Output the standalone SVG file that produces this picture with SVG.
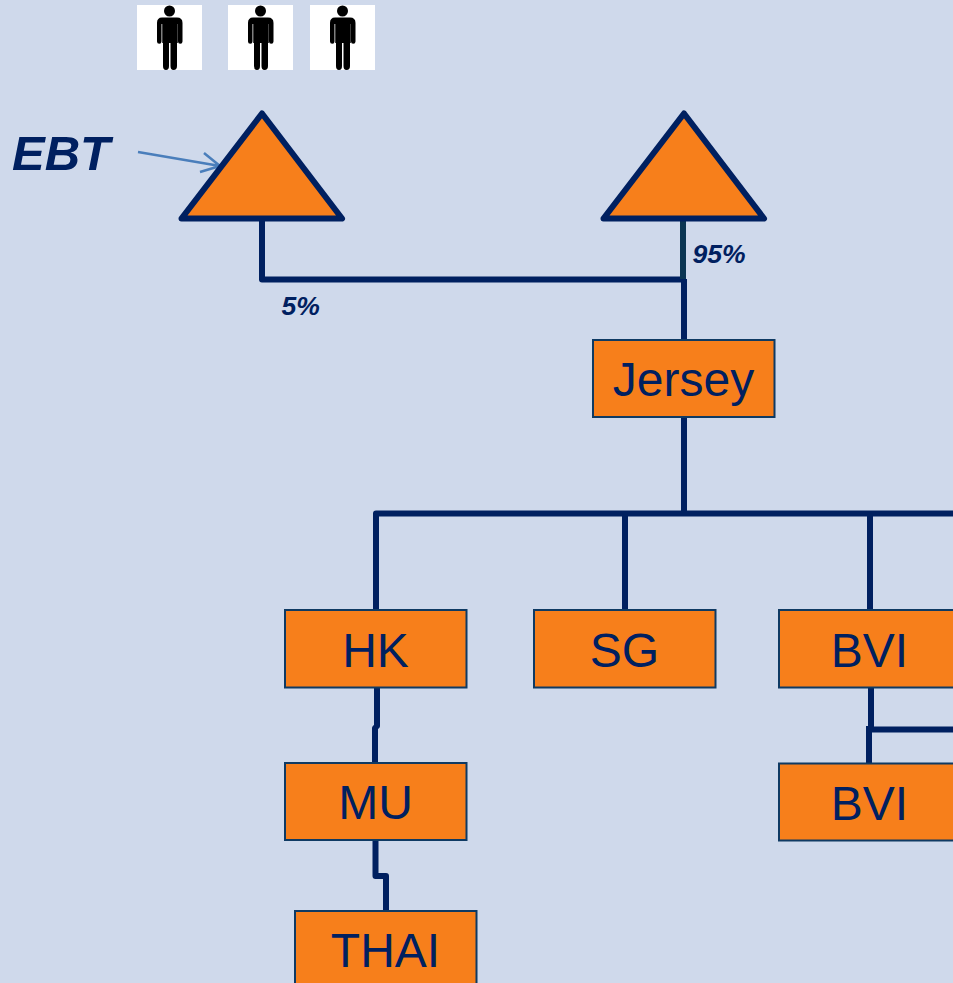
<svg xmlns="http://www.w3.org/2000/svg" width="953" height="983" viewBox="0 0 953 983">
<style>
.box{fill:#f77f1b;stroke:#0f3a63;stroke-width:2}
.tri{fill:#f77f1b;stroke:#002060;stroke-width:6;stroke-linejoin:round}
.lbl{font-family:"Liberation Sans",Arial,sans-serif;font-size:48px;fill:#002060;text-anchor:middle}
.pct{font-family:"Liberation Sans",Arial,sans-serif;font-size:26.500px;font-weight:bold;font-style:italic;fill:#002060}
.c{fill:none;stroke:#002060;stroke-width:6;stroke-linejoin:round}
</style>
<defs>
<g id="person">
<rect x="0" y="0" width="65" height="65" fill="#fff"/>
<circle cx="32.500" cy="6" r="5.500" fill="#000"/>
<path d="M25 12.500H40Q45.500 12.500 45.500 18V36.500Q45.500 38.800 43.200 38.800Q41 38.800 41 36.500V19H40V61Q40 65 36.500 65Q33.500 65 33.500 61V38H32V61Q32 65 29 65Q26 65 26 61V19H24.500V36.500Q24.500 38.800 22.300 38.800Q20 38.800 20 36.500V18Q20 12.500 25 12.500Z" fill="#000"/>
<path d="M25 17H26V38H25ZM39.500 17H41V38H39.500Z" fill="#000" opacity=".75"/>
</g>
</defs>
<rect width="953" height="983" fill="#cfd9eb"/>
<g id="connectors">
<path class="c" d="M262 219V279.500H684"/>
<path d="M683 219V279" fill="none" stroke="#0b3552" stroke-width="6"/>
<path class="c" d="M684 279V340"/>
<path class="c" d="M684 417V513.500"/>
<path class="c" d="M376 610V513.500H953"/>
<path class="c" d="M625 513.500V610"/>
<path class="c" d="M870 513.500V610"/>
<path class="c" d="M377 688V726L375 728V763"/>
<path class="c" d="M375.500 840V876H386V911"/>
<path class="c" d="M871 688V729.500H953"/>
<path class="c" d="M869 726V765"/>
<path d="M138 152L220 166M204 153L220 166M200 172L220 166" fill="none" stroke="#4a7ebb" stroke-width="2.500"/>
</g>
<g id="person-1"><use href="#person" x="137" y="5"/></g>
<g id="person-2"><use href="#person" x="228" y="5"/></g>
<g id="person-3"><use href="#person" x="310" y="5"/></g>
<g id="tri-ebt"><path class="tri" d="M262 113.500L342 218.500H181.500Z"/></g>
<g id="tri-right"><path class="tri" d="M684 113.500L764 218.500H603.500Z"/></g>
<g id="label-ebt"><text x="12" y="170" font-family="'Liberation Sans',Arial,sans-serif" font-size="49" font-weight="bold" font-style="italic" fill="#002060">EBT</text></g>
<g id="label-5"><text class="pct" x="281.500" y="315">5%</text></g>
<g id="label-95"><text class="pct" x="692.500" y="263">95%</text></g>
<g id="node-jersey"><rect class="box" x="593" y="340" width="181.500" height="77"/><text class="lbl" x="683.500" y="396">Jersey</text></g>
<g id="node-hk"><rect class="box" x="285" y="610" width="181.500" height="77.500"/><text class="lbl" x="375.500" y="667">HK</text></g>
<g id="node-sg"><rect class="box" x="534" y="610" width="181.500" height="77.500"/><text class="lbl" x="624.500" y="667">SG</text></g>
<g id="node-bvi-1"><rect class="box" x="779" y="610" width="181" height="77.500"/><text class="lbl" x="869.500" y="667">BVI</text></g>
<g id="node-mu"><rect class="box" x="285" y="763" width="181.500" height="77"/><text class="lbl" x="375.500" y="819">MU</text></g>
<g id="node-bvi-2"><rect class="box" x="779" y="763.500" width="181" height="77"/><text class="lbl" x="869.500" y="820">BVI</text></g>
<g id="node-thai"><rect class="box" x="295" y="911" width="181.500" height="90"/><text class="lbl" x="385.500" y="967">THAI</text></g>
</svg>
